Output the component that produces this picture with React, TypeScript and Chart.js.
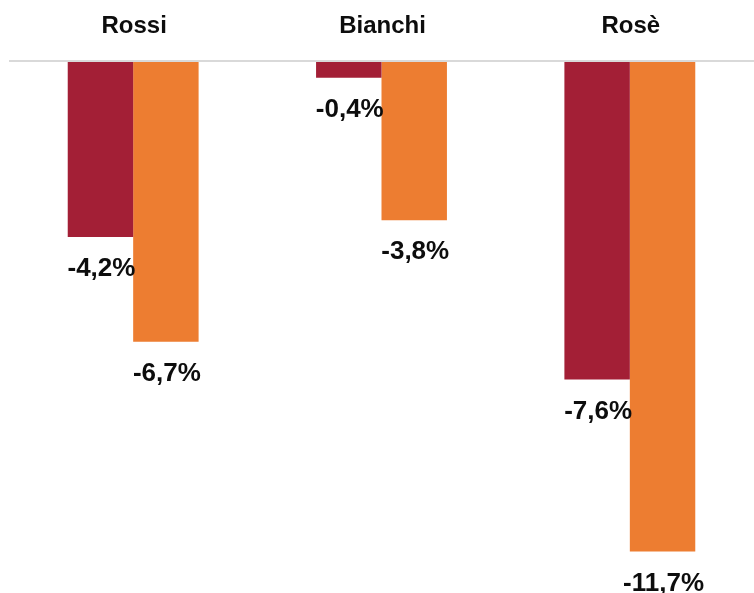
import React, { useEffect, useRef } from "react";
import { Chart, registerables } from "chart.js";

Chart.register(...registerables);

const categories = ["Rossi", "Bianchi", "Rosè"];
const seriesA = [-4.2, -0.4, -7.6];
const seriesB = [-6.7, -3.8, -11.7];
const colorA = "#A31F36";
const colorB = "#ED7D31";

const fmt = (v: number) => v.toFixed(1).replace(".", ",") + "%";

const overlay = {
  id: "overlay",
  afterDatasetsDraw(chart: any) {
    const { ctx, chartArea } = chart;
    ctx.save();
    // axis line at zero
    const y0 = chart.scales.y.getPixelForValue(0);
    ctx.strokeStyle = "#D9D9D9";
    ctx.lineWidth = 2;
    ctx.beginPath();
    ctx.moveTo(chartArea.left, y0);
    ctx.lineTo(chartArea.right, y0);
    ctx.stroke();
    // category labels
    ctx.fillStyle = "#0D0D0D";
    ctx.font = "bold 24px 'Liberation Sans', Arial, sans-serif";
    ctx.textAlign = "center";
    ctx.textBaseline = "middle";
    categories.forEach((c, i) => {
      const x = chart.scales.x.getPixelForValue(i);
      ctx.fillText(c, x + 1, 26);
    });
    // data labels
    ctx.font = "bold 26px 'Liberation Sans', Arial, sans-serif";
    chart.data.datasets.forEach((ds: any, di: number) => {
      const meta = chart.getDatasetMeta(di);
      meta.data.forEach((bar: any, i: number) => {
        ctx.fillText(fmt(ds.data[i]), bar.x + 1, bar.y + 32);
      });
    });
    ctx.restore();
  },
};

export default function App() {
  const ref = useRef<HTMLCanvasElement>(null);
  useEffect(() => {
    const chart = new Chart(ref.current!, {
      type: "bar",
      data: {
        labels: categories,
        datasets: [
          { label: "A", data: seriesA, backgroundColor: colorA, borderWidth: 0 },
          { label: "B", data: seriesB, backgroundColor: colorB, borderWidth: 0 },
        ],
      },
      options: {
        animation: false,
        responsive: true,
        maintainAspectRatio: false,
        layout: { padding: { top: 61, left: 9, right: 0, bottom: 8 } },
        plugins: { legend: { display: false }, tooltip: { enabled: false } },
        datasets: { bar: { categoryPercentage: 0.527, barPercentage: 1 } },
        scales: {
          x: { display: false },
          y: { display: false, min: -12.5, max: 0 },
        },
      },
      plugins: [overlay],
    });
    return () => chart.destroy();
  }, []);
  return (
    <div style={{ position: "fixed", left: 0, top: 0, width: 754, height: 593, background: "#fff" }}>
      <canvas ref={ref} />
    </div>
  );
}
